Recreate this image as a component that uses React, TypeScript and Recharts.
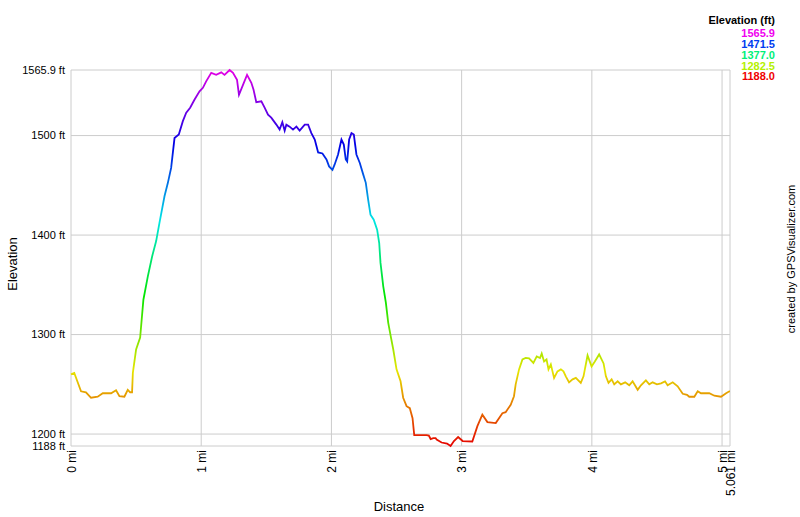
import { LineChart, Line, XAxis, YAxis, CartesianGrid } from 'recharts';

const distance = [
  0.0, 0.025, 0.077, 0.115, 0.154, 0.205, 0.244, 0.308, 0.346, 0.372, 0.41, 0.436, 0.454, 0.469, 0.475,
  0.5, 0.531, 0.556, 0.59, 0.623, 0.654, 0.679, 0.718, 0.744, 0.769, 0.795, 0.828, 0.859, 0.885, 0.915,
  0.948, 0.987, 1.013, 1.038, 1.077, 1.115, 1.154, 1.179, 1.218, 1.244, 1.275, 1.29, 1.321, 1.352, 1.385,
  1.402, 1.423, 1.462, 1.487, 1.513, 1.538, 1.577, 1.602, 1.623, 1.641, 1.654, 1.679, 1.705, 1.731, 1.756,
  1.795, 1.821, 1.846, 1.872, 1.898, 1.931, 1.962, 1.982, 2.008, 2.025, 2.051, 2.077, 2.095, 2.11, 2.121,
  2.136, 2.154, 2.172, 2.192, 2.218, 2.244, 2.264, 2.282, 2.3, 2.325, 2.351, 2.367, 2.377, 2.398, 2.418,
  2.436, 2.456, 2.475, 2.5, 2.531, 2.551, 2.577, 2.602, 2.623, 2.636, 2.731, 2.748, 2.762, 2.782, 2.8,
  2.808, 2.846, 2.888, 2.915, 2.941, 2.973, 3.008, 3.082, 3.121, 3.159, 3.198, 3.262, 3.287, 3.313, 3.338,
  3.377, 3.402, 3.415, 3.441, 3.467, 3.492, 3.518, 3.551, 3.577, 3.602, 3.615, 3.633, 3.652, 3.667, 3.685,
  3.71, 3.736, 3.762, 3.782, 3.8, 3.825, 3.852, 3.877, 3.915, 3.936, 3.967, 3.998, 4.023, 4.056, 4.09,
  4.108, 4.128, 4.152, 4.172, 4.198, 4.223, 4.256, 4.287, 4.313, 4.352, 4.377, 4.415, 4.441, 4.467, 4.5,
  4.531, 4.562, 4.582, 4.621, 4.659, 4.698, 4.731, 4.748, 4.787, 4.813, 4.838, 4.902, 4.941, 4.992, 5.031,
  5.056, 5.061,
];

const elevation = [
  1260, 1261.5, 1243, 1242, 1236.5, 1237.5, 1241, 1241, 1244, 1238, 1237.5, 1244.5, 1242, 1242, 1261.5,
  1285, 1297, 1335, 1358.5, 1378.5, 1394, 1412, 1439, 1452.5, 1467.5, 1497.5, 1501, 1514.5, 1523, 1528,
  1536, 1544.5, 1548, 1554.5, 1563, 1561, 1563.5, 1561, 1565.9, 1563, 1556, 1541, 1551, 1561, 1553,
  1546, 1533.5, 1534.5, 1528, 1521, 1518, 1511, 1506, 1513.5, 1505, 1511, 1509, 1506, 1509, 1505,
  1511, 1511, 1502.5, 1496, 1483, 1482, 1476, 1469, 1465.5, 1471, 1481, 1496, 1491, 1476, 1474,
  1496, 1502.5, 1501, 1481, 1472.5, 1461, 1452.5, 1435.5, 1420.5, 1415.5, 1405.5, 1392, 1372, 1348.5, 1332,
  1312, 1298, 1285, 1265, 1253, 1236.5, 1228, 1226, 1216, 1199, 1199, 1198.5, 1195, 1196, 1196,
  1194.5, 1191.5, 1190.5, 1188, 1193, 1197, 1193, 1192.5, 1208, 1219.5, 1212, 1211, 1216, 1221, 1222,
  1229.5, 1238, 1250, 1265, 1275, 1276.5, 1276, 1271.5, 1278, 1276.5, 1281, 1273, 1275, 1265, 1270,
  1256.5, 1263, 1265, 1263, 1258, 1252, 1255, 1256.5, 1251.5, 1258, 1279, 1268, 1273, 1280, 1271,
  1258, 1251.5, 1255, 1250, 1253, 1250, 1252, 1249, 1253, 1244.5, 1249, 1254, 1250, 1252, 1250,
  1251, 1253, 1249, 1252, 1248, 1240.5, 1239.5, 1237.5, 1237.5, 1243, 1241, 1241, 1238.5, 1237.5, 1241,
  1243, 1243,
];

const xTicks = [0, 1, 2, 3, 4, 5, 5.061];
const yTicks = [1188, 1200, 1300, 1400, 1500, 1565.9];
const legendValues = ['1565.9', '1471.5', '1377.0', '1282.5', '1188.0'];
const legendHues = [300, 225, 150, 75, 0];

const data = distance.map((d, i) => ({ d, e: elevation[i] }));

const FONT = '"Liberation Sans", Arial, sans-serif';
const gradientHues = [300, 270, 240, 210, 180, 150, 120, 90, 60, 30, 0];

const XTick = ({ x, y, payload }: any) => (
  <text
    x={x}
    y={y}
    dy="0.4em"
    transform={`rotate(-90 ${x} ${y})`}
    textAnchor="end"
    fontSize={12}
    fontFamily={FONT}
    fill="#000"
  >
    {`${payload.value} mi`}
  </text>
);

export default function App() {
  return (
    <div style={{ position: 'absolute', left: 0, top: 0, width: 800, height: 517, background: '#fff' }}>
      <LineChart width={800} height={517} data={data} margin={{ top: 70, right: 70, bottom: 0, left: 0 }}>
        <defs>
          <linearGradient id="elevGrad" gradientUnits="userSpaceOnUse" x1="0" y1="70" x2="0" y2="446">
            {gradientHues.map((h, i) => (
              <stop key={i} offset={`${(i / (gradientHues.length - 1)) * 100}%`} stopColor={`hsl(${h}, 100%, 45%)`} />
            ))}
          </linearGradient>
        </defs>
        <CartesianGrid stroke="#cccccc" strokeWidth={1} />
        <XAxis
          dataKey="d"
          type="number"
          domain={[0, 5.061]}
          ticks={xTicks}
          interval={0}
          height={71}
          axisLine={false}
          tickLine={false}
          tickSize={0}
          tickMargin={4}
          tick={<XTick />}
        />
        <YAxis
          type="number"
          domain={[1188, 1565.9]}
          ticks={yTicks}
          interval={0}
          width={71}
          axisLine={false}
          tickLine={false}
          tickSize={4}
          tickFormatter={(v: number) => `${v} ft`}
          tick={{ fontSize: 11, fill: '#000', fontFamily: FONT }}
        />
        <Line
          dataKey="e"
          type="linear"
          stroke="url(#elevGrad)"
          strokeWidth={1.8}
          dot={false}
          isAnimationActive={false}
        />
      </LineChart>
      <svg width={800} height={517} style={{ position: 'absolute', left: 0, top: 0, pointerEvents: 'none' }}>
        <text x={12} y={264} transform="rotate(-90 12 264)" textAnchor="middle" dy="0.35em" fontSize={13} fontFamily={FONT} fill="#000">
          Elevation
        </text>
        <text x={399} y={506} textAnchor="middle" dy="0.35em" fontSize={13} fontFamily={FONT} fill="#000">
          Distance
        </text>
        <text x={791} y={259} transform="rotate(-90 791 259)" textAnchor="middle" dy="0.35em" fontSize={11} fontFamily={FONT} fill="#000">
          created by GPSVisualizer.com
        </text>
        <text x={775} y={20} textAnchor="end" dy="0.35em" fontSize={11} fontWeight="bold" fontFamily={FONT} fill="#000">
          Elevation (ft)
        </text>
        {legendValues.map((v, i) => (
          <text
            key={v}
            x={775}
            y={33 + i * 10.9}
            textAnchor="end"
            dy="0.35em"
            fontSize={11}
            fontWeight="bold"
            fontFamily={FONT}
            fill={`hsl(${legendHues[i]}, 100%, 47%)`}
          >
            {v}
          </text>
        ))}
      </svg>
    </div>
  );
}
